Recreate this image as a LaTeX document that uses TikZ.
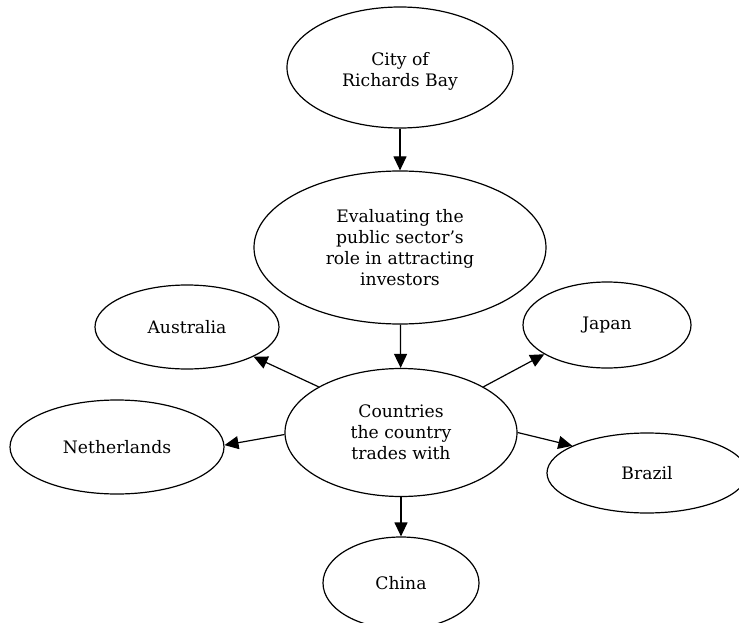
\documentclass[tikz,border=0pt]{standalone}
\usepackage{fontspec}
\setmainfont{DejaVu Serif}
\usetikzlibrary{shapes.geometric,arrows.meta}
% set a multi-line label lower inside its ellipse by padding the top of its box
\newcommand{\droptext}[2]{\raisebox{0pt}[\dimexpr\height+#1\relax][\depth]{\begin{tabular}{@{}c@{}}#2\end{tabular}}}
\begin{document}
\begin{tikzpicture}[x=1pt,y=-1pt,
  bubble/.style={ellipse,draw,line width=1.2pt,inner sep=0pt,align=center,
    font=\fontsize{17.2}{21.5}\selectfont},
  link/.style={line width=1.2pt,-{Triangle[length=14pt,width=13pt]}}]
\clip (0,0) rectangle (739,623);
\useasboundingbox (0,0) rectangle (739,623);
\renewcommand{\arraystretch}{0.98}
\node[bubble,minimum width=226pt,minimum height=121pt] (city) at (400,67.5)
  {\droptext{9pt}{City of\\Richards Bay}};
\node[bubble,minimum width=292pt,minimum height=153pt] (eval) at (400,247.5)
  {\droptext{4pt}{Evaluating the\\public sector’s\\role in attracting\\investors}};
\node[bubble,minimum width=232pt,minimum height=128pt] (ctry) at (401,432.5)
  {\droptext{3pt}{Countries\\the country\\trades with}};
\node[bubble,minimum width=184pt,minimum height=84pt] (aus) at (187,327) {Australia};
\node[bubble,minimum width=214pt,minimum height=94pt] (ned) at (117,447) {Netherlands};
\node[bubble,minimum width=168pt,minimum height=86pt] (jap) at (607,325) {Japan};
\node[bubble,minimum width=200pt,minimum height=80pt] (bra) at (647,473) {Brazil};
\node[bubble,minimum width=156pt,minimum height=92pt] (chn) at (401,583) {China};
\draw[link] (city) -- (eval);
\draw[link] (eval) -- (ctry);
\draw[link] (ctry.151) -- (aus.-24);
\draw[link] (ctry.29) -- (jap.205);
\draw[link] (ctry.181) -- (ned.1);
\draw[link] (ctry.0) -- (bra.160);
\draw[link] (ctry) -- (chn);
\end{tikzpicture}
\end{document}
